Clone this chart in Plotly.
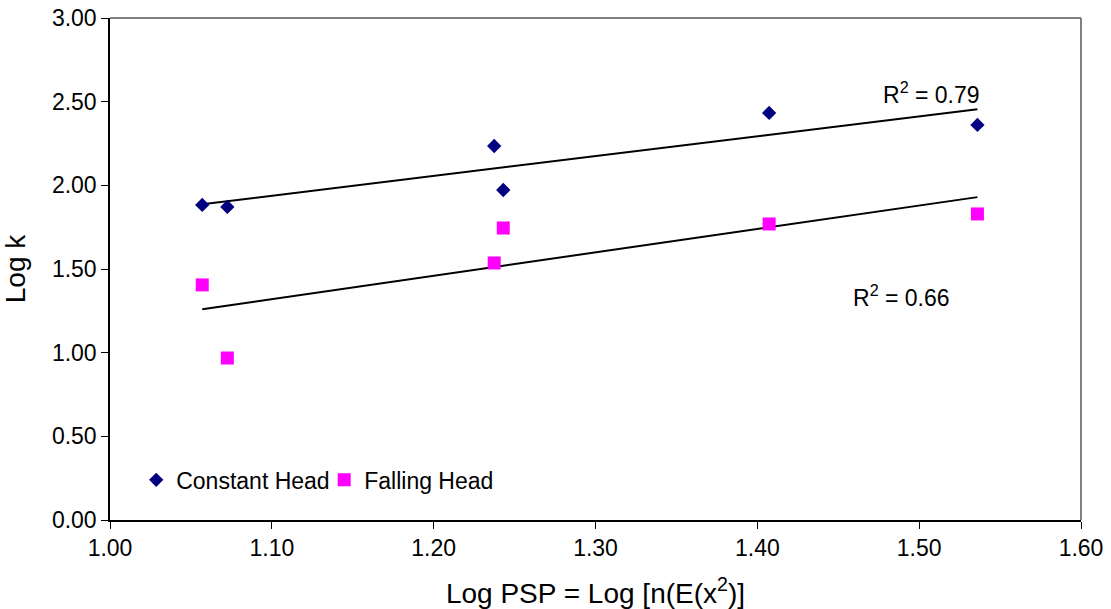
import numpy as np
import plotly.graph_objects as go

# Data
psp = [1.057, 1.0725, 1.2374, 1.243, 1.4073, 1.536]
const_head = [1.883, 1.871, 2.235, 1.972, 2.433, 2.361]
psp_fall = [1.057, 1.0725, 1.2374, 1.243, 1.4073, 1.536]
falling_head = [1.405, 0.968, 1.536, 1.745, 1.769, 1.829]
r2_labels = ["R<sup>2</sup> = 0.79", "R<sup>2</sup> = 0.66"]
x_ticks = [1.00, 1.10, 1.20, 1.30, 1.40, 1.50, 1.60]
y_ticks = [0.00, 0.50, 1.00, 1.50, 2.00, 2.50, 3.00]

FONT = "Liberation Sans, Arial, sans-serif"
FS = 23

def trend(x, y):
    x = np.array(x); y = np.array(y)
    m, b = np.polyfit(x, y, 1)
    xs = np.array([x.min(), x.max()])
    return xs, m * xs + b

fig = go.Figure()

tx, ty = trend(psp, const_head)
fig.add_trace(go.Scatter(x=tx, y=ty, mode="lines", line=dict(color="black", width=2),
                         showlegend=False, hoverinfo="skip"))
tx2, ty2 = trend(psp_fall, falling_head)
fig.add_trace(go.Scatter(x=tx2, y=ty2, mode="lines", line=dict(color="black", width=2),
                         showlegend=False, hoverinfo="skip"))

fig.add_trace(go.Scatter(x=psp, y=const_head, mode="markers", name="Constant Head",
                         marker=dict(symbol="diamond", size=11, color="#000080")))
fig.add_trace(go.Scatter(x=psp_fall, y=falling_head, mode="markers", name="Falling Head",
                         marker=dict(symbol="square", size=13, color="#FF00FF")))

fig.add_annotation(x=1.5077, y=2.552, xref="x", yref="y", text=r2_labels[0], showarrow=False,
                   font=dict(size=FS, color="black", family=FONT))
fig.add_annotation(x=1.489, y=1.339, xref="x", yref="y", text=r2_labels[1], showarrow=False,
                   font=dict(size=FS, color="black", family=FONT))

# gray plot-area border on top and right
fig.add_shape(type="line", xref="paper", yref="paper", x0=0, x1=1, y0=1, y1=1,
              line=dict(color="#808080", width=2), layer="below")
fig.add_shape(type="line", xref="paper", yref="paper", x0=1, x1=1, y0=0, y1=1,
              line=dict(color="#808080", width=2), layer="below")

fig.update_layout(
    width=1111, height=609,
    margin=dict(l=110, r=30, t=18, b=89, autoexpand=False),
    paper_bgcolor="white", plot_bgcolor="white",
    font=dict(family=FONT, size=FS, color="black"),
    showlegend=True,
    legend=dict(orientation="h", x=0.027, y=0.08, xanchor="left", yanchor="middle",
                bgcolor="rgba(0,0,0,0)", font=dict(size=FS, family=FONT),
                itemwidth=30, tracegroupgap=0, entrywidth=143, entrywidthmode="pixels"),
)
fig.update_xaxes(range=[1.0, 1.6], tickvals=x_ticks, ticktext=[f"{v:.2f}" for v in x_ticks],
                 showgrid=False, zeroline=False, showline=True, linecolor="black", linewidth=1.5,
                 ticks="outside", ticklen=7, tickcolor="black", automargin=False,
                 title=dict(text="Log PSP = Log [n(E(x<sup>2</sup>)]", standoff=25),
                 tickfont=dict(size=FS))
fig.update_yaxes(range=[0.0, 3.0], tickvals=y_ticks, ticktext=[f"{v:.2f}" for v in y_ticks],
                 showgrid=False, zeroline=False, showline=True, linecolor="black", linewidth=1.5,
                 ticks="outside", ticklen=7, tickcolor="black", automargin=False,
                 title=dict(text="Log k", standoff=18), tickfont=dict(size=FS))

fig.write_html("out.html")
